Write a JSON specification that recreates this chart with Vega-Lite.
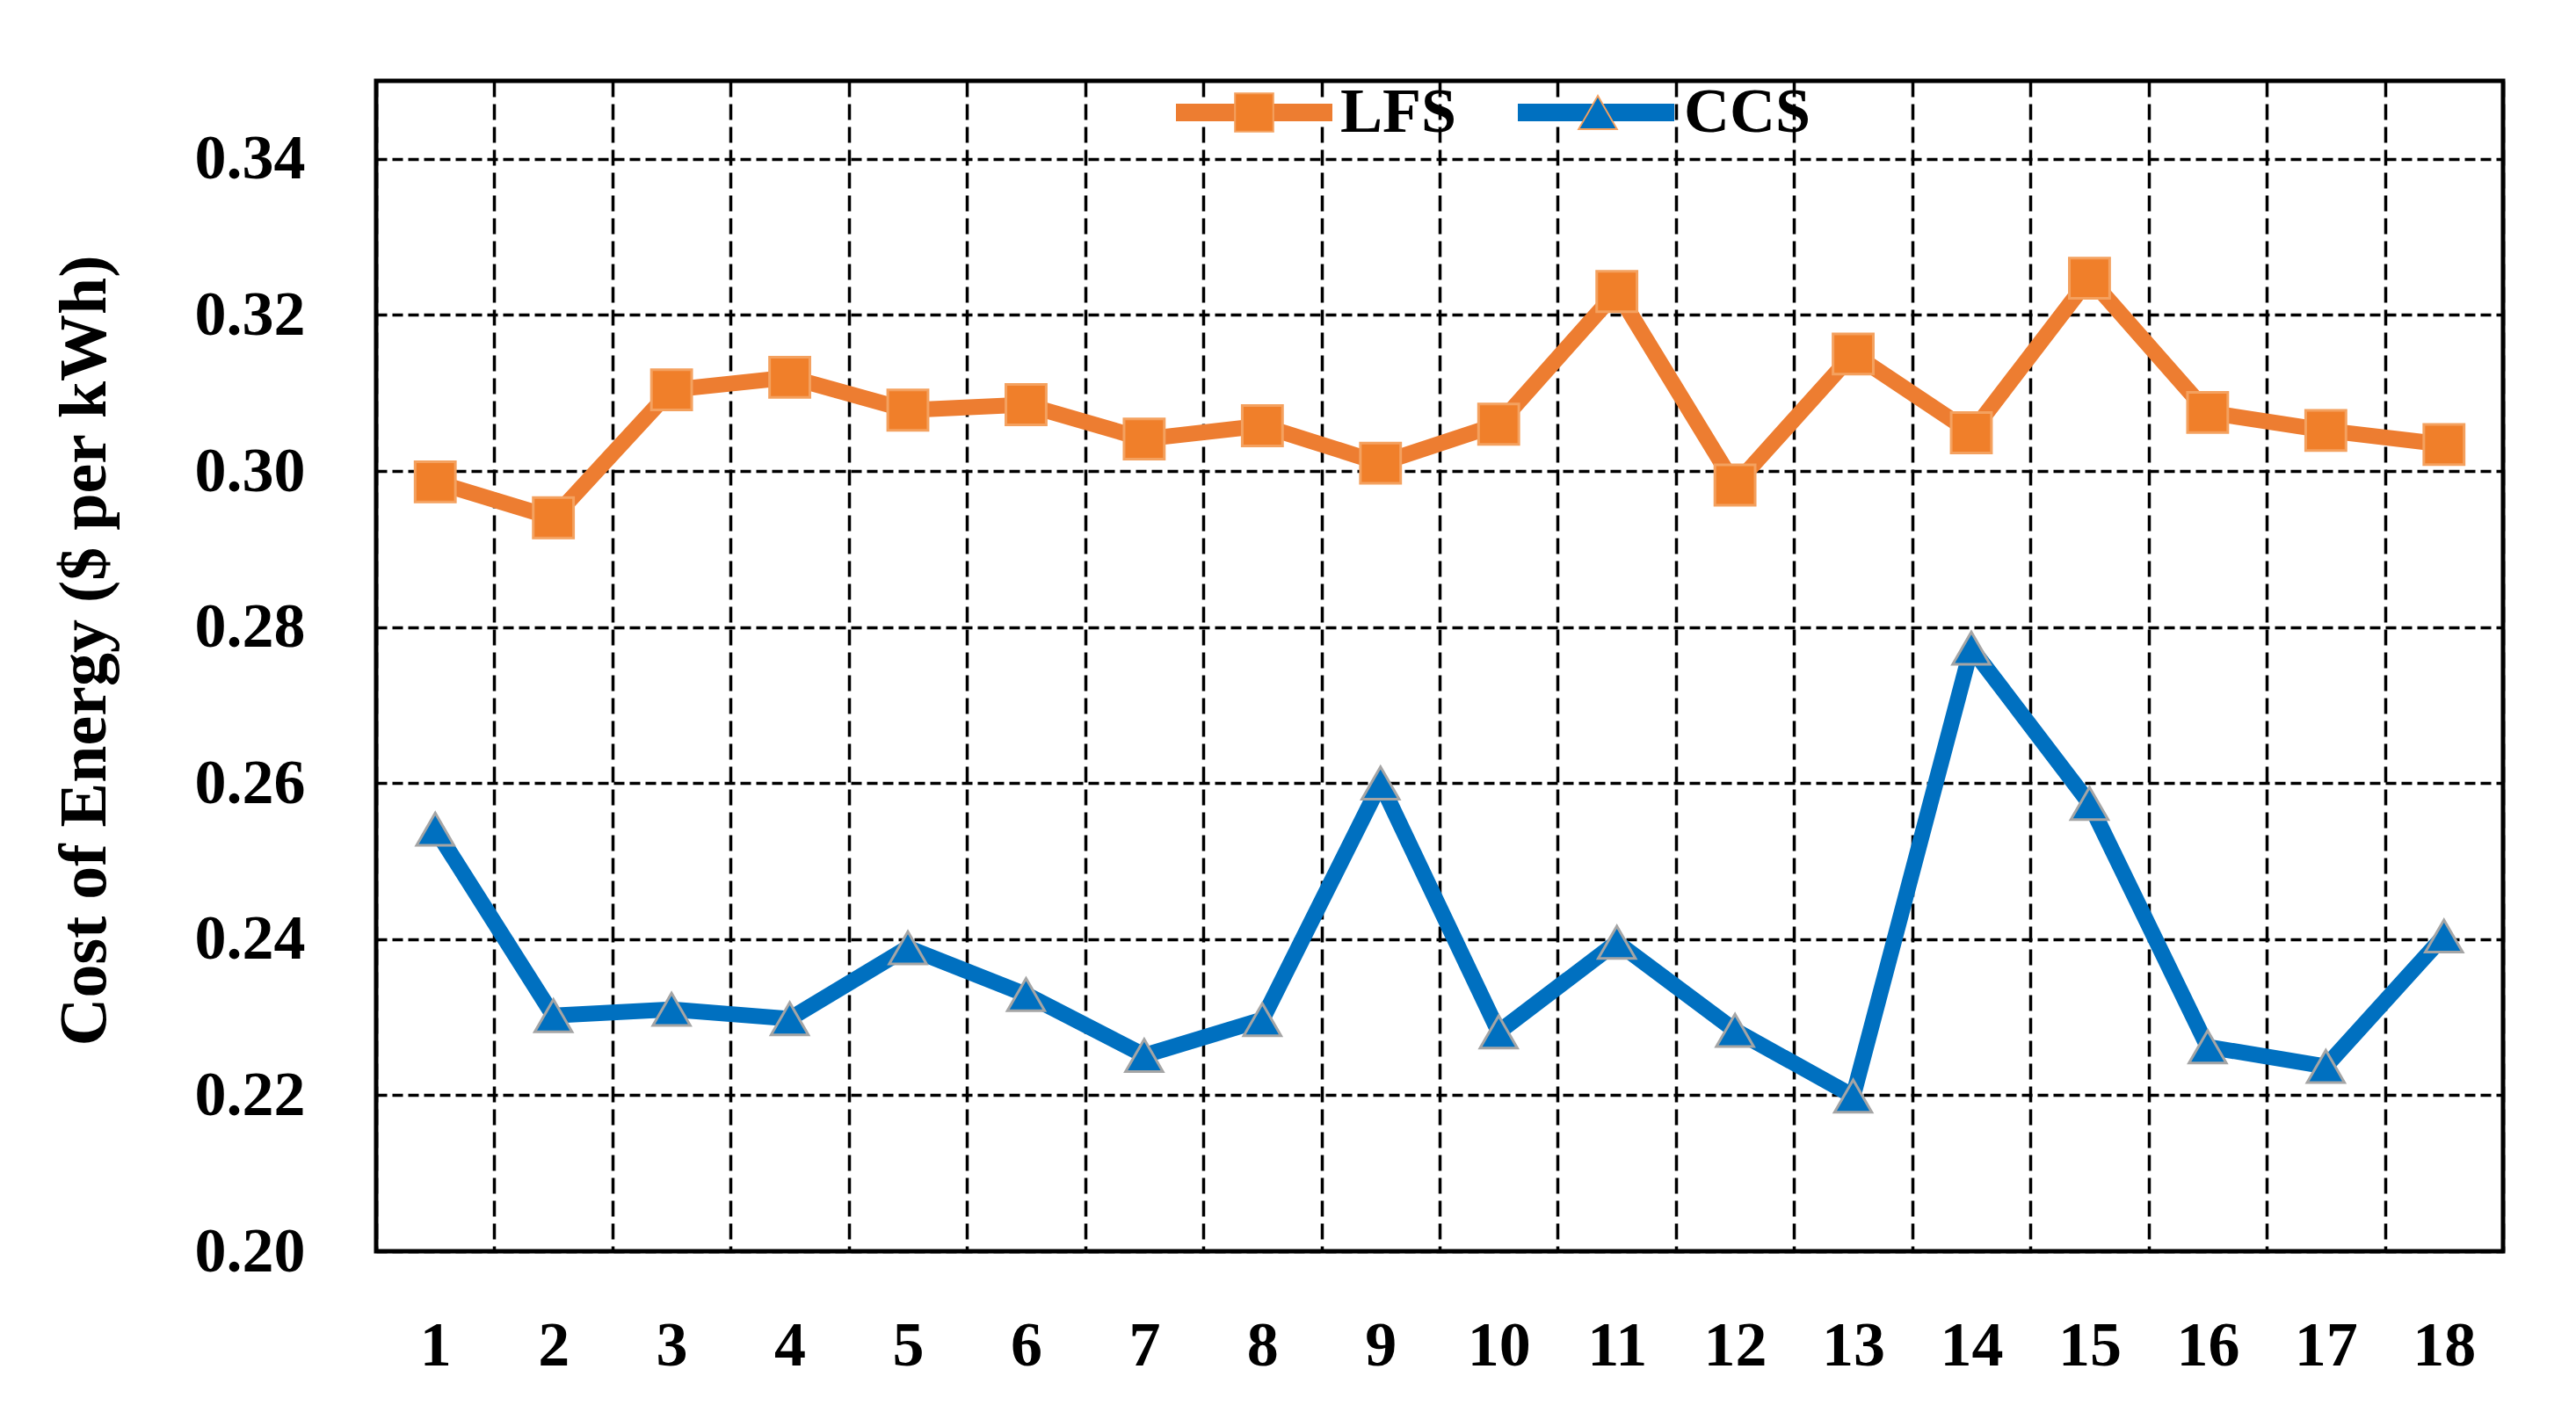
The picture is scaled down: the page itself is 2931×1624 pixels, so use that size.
{
  "$schema": "https://vega.github.io/schema/vega-lite/v6.json",
  "width": 2420,
  "height": 1332,
  "autosize": {"type": "none"},
  "padding": {"left": 428, "top": 92, "right": 83, "bottom": 200},
  "background": "white",
  "config": {
    "view": {"stroke": "black", "strokeWidth": 5},
    "font": "Liberation Serif",
    "axis": {
      "labelFont": "Liberation Serif",
      "labelFontWeight": "bold",
      "labelFontSize": 72,
      "labelColor": "black",
      "domain": false,
      "ticks": false,
      "tickSize": 0,
      "gridColor": "black",
      "gridWidth": 3.5,
      "gridOpacity": 1
    }
  },
  "data": {
    "values": [
      {"run": 1, "series": "LFS", "cost": 0.2986},
      {"run": 2, "series": "LFS", "cost": 0.2940},
      {"run": 3, "series": "LFS", "cost": 0.3104},
      {"run": 4, "series": "LFS", "cost": 0.3120},
      {"run": 5, "series": "LFS", "cost": 0.3078},
      {"run": 6, "series": "LFS", "cost": 0.3085},
      {"run": 7, "series": "LFS", "cost": 0.3041},
      {"run": 8, "series": "LFS", "cost": 0.3058},
      {"run": 9, "series": "LFS", "cost": 0.3010},
      {"run": 10, "series": "LFS", "cost": 0.3060},
      {"run": 11, "series": "LFS", "cost": 0.3230},
      {"run": 12, "series": "LFS", "cost": 0.2982},
      {"run": 13, "series": "LFS", "cost": 0.3150},
      {"run": 14, "series": "LFS", "cost": 0.3049},
      {"run": 15, "series": "LFS", "cost": 0.3247},
      {"run": 16, "series": "LFS", "cost": 0.3075},
      {"run": 17, "series": "LFS", "cost": 0.3052},
      {"run": 18, "series": "LFS", "cost": 0.3034},
      {"run": 1, "series": "CCS", "cost": 0.2541},
      {"run": 2, "series": "CCS", "cost": 0.2302},
      {"run": 3, "series": "CCS", "cost": 0.2310},
      {"run": 4, "series": "CCS", "cost": 0.2298},
      {"run": 5, "series": "CCS", "cost": 0.2389},
      {"run": 6, "series": "CCS", "cost": 0.2329},
      {"run": 7, "series": "CCS", "cost": 0.2251},
      {"run": 8, "series": "CCS", "cost": 0.2297},
      {"run": 9, "series": "CCS", "cost": 0.2600},
      {"run": 10, "series": "CCS", "cost": 0.2281},
      {"run": 11, "series": "CCS", "cost": 0.2396},
      {"run": 12, "series": "CCS", "cost": 0.2283},
      {"run": 13, "series": "CCS", "cost": 0.2199},
      {"run": 14, "series": "CCS", "cost": 0.2773},
      {"run": 15, "series": "CCS", "cost": 0.2574},
      {"run": 16, "series": "CCS", "cost": 0.2262},
      {"run": 17, "series": "CCS", "cost": 0.2237},
      {"run": 18, "series": "CCS", "cost": 0.2404}
    ]
  },
  "encoding": {
    "x": {
      "field": "run",
      "type": "ordinal",
      "scale": {"type": "band", "paddingInner": 0, "paddingOuter": 0},
      "axis": {
        "title": null,
        "grid": true,
        "labelAngle": 0,
        "labelPadding": 107,
        "labelBaseline": "middle",
        "tickBand": "extent",
        "gridDash": [18, 8],
        "gridWidth": 3.5
      }
    },
    "y": {
      "field": "cost",
      "type": "quantitative",
      "scale": {"domain": [0.2, 0.35], "nice": false, "zero": false},
      "axis": {
        "values": [0.2, 0.22, 0.24, 0.26, 0.28, 0.3, 0.32, 0.34],
        "format": ".2f",
        "labelPadding": 81,
        "labelBaseline": "middle",
        "gridDash": [12, 6],
        "gridWidth": 3.5,
        "title": "Cost of Energy ($ per kWh)",
        "titleFont": "Liberation Serif",
        "titleFontSize": 76,
        "titleFontWeight": "bold",
        "titleColor": "black",
        "titleX": -309,
        "titleY": 648,
        "titleAlign": "center",
        "titleBaseline": "alphabetic",
        "titleAngle": -90
      }
    }
  },
  "layer": [
    {
      "mark": {"type": "line", "strokeWidth": 18, "strokeJoin": "round"},
      "encoding": {
        "stroke": {
          "field": "series",
          "type": "nominal",
          "scale": {"domain": ["LFS", "CCS"], "range": ["#ED7D31", "#0070C0"]},
          "legend": {
            "title": null,
            "orient": "none",
            "direction": "horizontal",
            "legendX": 900,
            "legendY": -63,
            "padding": 0,
            "symbolType": "stroke",
            "symbolSize": 31684,
            "symbolStrokeWidth": 20,
            "labelOffset": 1,
            "columnPadding": 131,
            "labelExpr": "''",
            "labelFont": "Liberation Serif",
            "labelFontSize": 72,
            "labelFontWeight": "bold",
            "labelColor": "black",
            "labelLimit": 400
          }
        }
      }
    },
    {
      "mark": {"type": "point", "filled": true, "opacity": 1, "strokeWidth": 3},
      "encoding": {
        "color": {
          "field": "series",
          "type": "nominal",
          "sort": "descending",
          "scale": {"range": ["#F07F2A", "#0070C0"]},
          "legend": {
            "title": null,
            "orient": "none",
            "direction": "horizontal",
            "legendX": 900,
            "legendY": 0,
            "padding": 0,
            "symbolSize": 1900,
            "symbolStrokeWidth": 2,
            "symbolOffset": 63,
            "labelOffset": 62,
            "columnPadding": 61,
            "labelFont": "Liberation Serif",
            "labelFontSize": 72,
            "labelFontWeight": "bold",
            "labelColor": "black",
            "labelLimit": 400
          }
        },
        "shape": {
          "field": "series",
          "type": "nominal",
          "sort": "descending",
          "scale": {"range": ["square", "triangle-up"]},
          "legend": {
            "title": null,
            "orient": "none",
            "direction": "horizontal",
            "legendX": 900,
            "legendY": 0,
            "padding": 0,
            "symbolSize": 1900,
            "symbolStrokeWidth": 2,
            "symbolOffset": 63,
            "labelOffset": 62,
            "columnPadding": 61,
            "labelFont": "Liberation Serif",
            "labelFontSize": 72,
            "labelFontWeight": "bold",
            "labelColor": "black",
            "labelLimit": 400
          }
        },
        "size": {"condition": {"test": "datum.series === 'LFS'", "value": 2100}, "value": 1800},
        "stroke": {"condition": {"test": "datum.series === 'CCS'", "value": "#A5A5A5"}, "value": "#F4A15F"}
      }
    }
  ]
}
